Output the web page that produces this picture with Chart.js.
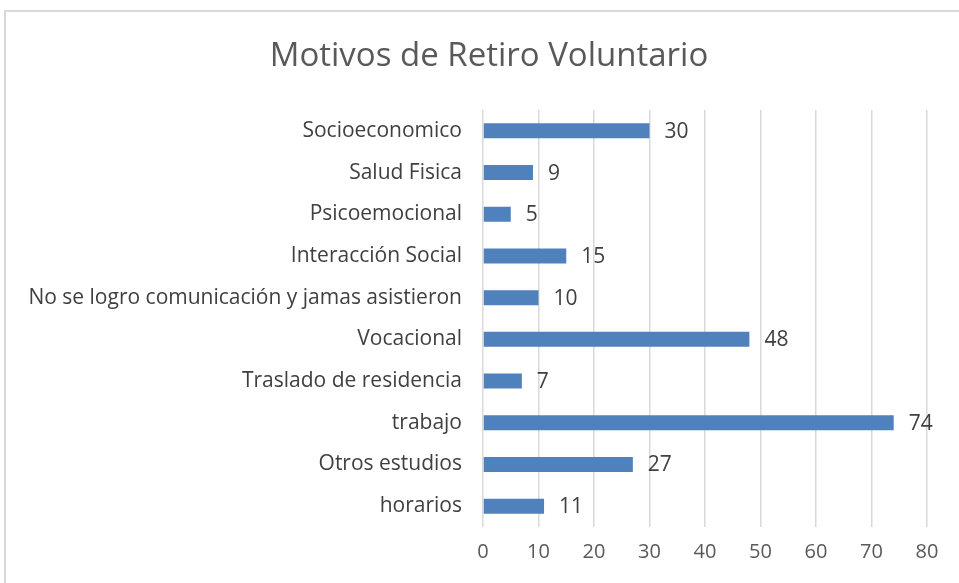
<!DOCTYPE html>
<html>
<head>
<meta charset="utf-8">
<script src="https://cdn.jsdelivr.net/npm/chart.js@4"></script>
<style>
    body { margin: 0; background: #fff; overflow: hidden; }
    #frame { position: absolute; left: 4px; top: 10px; width: 1000px; height: 700px; border: 2px solid #d9d9d9; }
    #wrap { position: absolute; left: 0; top: 0; width: 959px; height: 583px; }
</style>
</head>
<body>
<div id="frame"></div>
<div id="wrap"><canvas id="chart"></canvas></div>
<script>
// Data
const chartTitle = 'Motivos de Retiro Voluntario';
const categories = [
    'Socioeconomico',
    'Salud Fisica',
    'Psicoemocional',
    'Interacción Social',
    'No se logro comunicación y jamas asistieron',
    'Vocacional',
    'Traslado de residencia',
    'trabajo',
    'Otros estudios',
    'horarios'
];
const counts = [30, 9, 5, 15, 10, 48, 7, 74, 27, 11];
const xTicks = [0, 10, 20, 30, 40, 50, 60, 70, 80];

const FONT = '"Open Sans", "Noto Sans", sans-serif';

// Title drawn by hand so it can sit centred on the whole frame
const titlePlugin = {
    id: 'frameTitle',
    afterDraw(chart) {
        const ctx = chart.ctx;
        ctx.save();
        ctx.font = '33px ' + FONT;
        ctx.fillStyle = '#595959';
        ctx.textAlign = 'center';
        ctx.textBaseline = 'middle';
        ctx.fillText(chartTitle, 489, 57);
        ctx.restore();
    }
};

// Value labels at the end of each bar
const valueLabels = {
    id: 'valueLabels',
    afterDatasetsDraw(chart) {
        const ctx = chart.ctx;
        const meta = chart.getDatasetMeta(0);
        ctx.save();
        ctx.font = '21px ' + FONT;
        ctx.fillStyle = '#404040';
        ctx.textAlign = 'left';
        ctx.textBaseline = 'middle';
        meta.data.forEach((bar, i) => {
            ctx.fillText(counts[i], bar.x + 15, bar.y + 1);
        });
        ctx.restore();
    }
};

new Chart(document.getElementById('chart'), {
    type: 'bar',
    data: {
        labels: categories,
        datasets: [{
            data: counts,
            backgroundColor: '#4f81bd',
            borderWidth: 0,
            barPercentage: 0.36,
            categoryPercentage: 1
        }]
    },
    options: {
        indexAxis: 'y',
        responsive: true,
        maintainAspectRatio: false,
        animation: false,
        layout: { padding: { top: 110, right: 32, left: 0, bottom: 0 } },
        plugins: {
            legend: { display: false },
            tooltip: { enabled: false },
            title: { display: false }
        },
        scales: {
            x: {
                min: 0,
                max: 80,
                afterBuildTicks: (scale) => { scale.ticks = xTicks.map(v => ({ value: v })); },
                afterFit: (scale) => { scale.height = 56; },
                grid: { color: '#d9d9d9', lineWidth: 1.5, drawTicks: false },
                border: { display: false },
                ticks: { color: '#595959', padding: 13, font: { family: FONT, size: 20 } }
            },
            y: {
                afterFit: (scale) => { scale.width = 483; },
                grid: { display: false, drawTicks: false },
                border: { display: false },
                ticks: { color: '#404040', padding: 21, font: { family: FONT, size: 21 } }
            }
        }
    },
    plugins: [valueLabels, titlePlugin]
});
</script>
</body>
</html>
